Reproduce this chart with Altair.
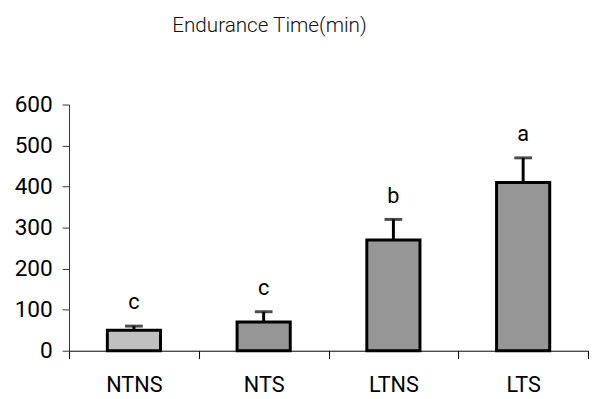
import altair as alt
import pandas as pd

groups = ["NTNS", "NTS", "LTNS", "LTS"]
means = [50, 70, 270, 410]
errs = [60, 95, 320, 470]
letters = ["c", "c", "b", "a"]
fills = ["#c0c0c0", "#969696", "#969696", "#969696"]

df = pd.DataFrame({"group": groups, "mean": means, "err": errs,
                   "letter": letters, "fill": fills})

FONT = "Roboto"
x = alt.X("group:N", sort=groups, title=None,
          scale=alt.Scale(paddingInner=0, paddingOuter=0),
          axis=alt.Axis(labelAngle=0, labelFontSize=22, labelFont=FONT,
                        labelColor="#000", tickBand="extent", tickSize=8,
                        tickColor="#000", domainColor="#000", labelPadding=16,
                        domainWidth=1))
y = alt.Y("mean:Q", title=None,
          scale=alt.Scale(domain=[0, 600], nice=False),
          axis=alt.Axis(values=[0, 100, 200, 300, 400, 500, 600], grid=False,
                        labelFontSize=23, labelFont=FONT, labelColor="#000",
                        tickSize=7, tickColor="#333", domainColor="#333",
                        labelPadding=10, minExtent=62, maxExtent=62))

base = alt.Chart(df)
rules = base.mark_rule(color="#000", strokeWidth=3).encode(x=x, y=y, y2="err:Q")
caps = base.mark_tick(color="#000", thickness=3, size=18, orient="horizontal").encode(
    x=x, y=alt.Y("err:Q"))
bars = base.mark_bar(size=54, stroke="#000", strokeWidth=3).encode(
    x=x, y=y, fill=alt.Fill("fill:N", scale=None))
labels = base.mark_text(fontSize=22, font=FONT, color="#000", baseline="alphabetic",
                        dy=-17).encode(x=x, y=alt.Y("err:Q"), text="letter:N")

chart = alt.layer(rules, caps, bars, labels).properties(
    width=527, height=250,
    padding={"left": 0, "top": 4, "right": 0, "bottom": 0},
    title=alt.TitleParams("Endurance Time(min)", fontSize=21, font=FONT,
                          fontWeight=300, color="#111", offset=59, dx=-60),
).configure_view(stroke=None)

chart.save("out.html", embed_options={"renderer": "svg", "actions": False})
